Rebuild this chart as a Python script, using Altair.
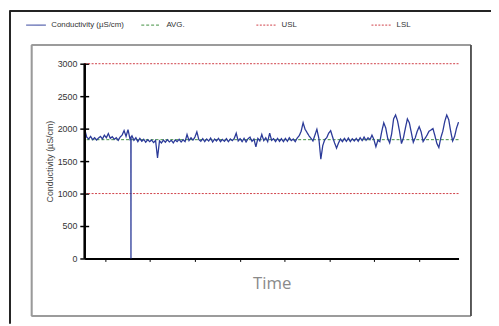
import altair as alt
import pandas as pd

# ---- data ----
series = ["Conductivity (µS/cm)", "AVG.", "USL", "LSL"]
limit_values = [1830, 3000, 1000]          # AVG., USL, LSL

values = [
    1990, 1870, 1840, 1880, 1830, 1860, 1825, 1855, 1880, 1840,
    1900, 1860, 1925, 1850, 1875, 1835, 1860, 1820, 1870, 1900,
    1970, 1880, 1985, 1840, 1890, 1820, 1860, 1800, 1850, 1805,
    1835, 1790, 1830, 1800, 1825, 1785, 1820, 1550, 1810, 1780,
    1825, 1790, 1830, 1795, 1820, 1780, 1825, 1800, 1835, 1795,
    1830, 1800, 1910, 1815, 1860, 1820, 1870, 1950, 1830, 1805,
    1845, 1800, 1840, 1810, 1855, 1795, 1840, 1810, 1850, 1800,
    1835, 1805, 1845, 1800, 1840, 1815, 1850, 1930, 1810, 1845,
    1800, 1850, 1795, 1845, 1870, 1805, 1840, 1720, 1850, 1810,
    1910, 1815, 1860, 1800, 1930, 1820, 1845, 1800, 1850, 1805,
    1845, 1800, 1850, 1805, 1860, 1815, 1840, 1800, 1855, 1890,
    1960, 2090, 1990, 1940, 1890, 1850, 1810, 1900, 1990, 1850,
    1530, 1740, 1830, 1860, 1930, 1970, 1870, 1780, 1700, 1780,
    1840, 1800, 1850, 1805, 1855, 1800, 1845, 1810, 1850, 1805,
    1860, 1815, 1870, 1820, 1860, 1830, 1900, 1830, 1720, 1820,
    1800, 1960, 2090, 2010, 1850, 1780, 1920, 2150, 2210, 2120,
    1960, 1770, 1860, 2010, 2150, 2090, 1940, 1790, 1860, 1960,
    2030, 1950, 1800, 1850, 1900, 1960, 1980, 2000, 1890, 1770,
    1710, 1860, 1960, 2110, 2210, 2140, 1960, 1810, 1880, 2010, 2100,
]
times = list(range(0, 381, 2))
# single sample that drops to zero, with its immediate neighbours
drop_times = [46.9, 47, 47.1]
drop_values = [1870, 0, 1870]
x_ticks = [20.7, 66.3, 111.9, 157.5, 203.1, 248.7, 294.3, 339.9]
y_ticks = [0, 500, 1000, 1500, 2000, 2500, 3000]

# ---- tables ----
pts = list(zip(times, values)) + list(zip(drop_times, drop_values))
pts.sort(key=lambda p: p[0])
df = pd.DataFrame({"t": [p[0] for p in pts], "v": [p[1] for p in pts], "series": series[0]})
df_lim = pd.DataFrame({"series": series[1:], "v": limit_values})

W, H = 380, 198
colors = ["#2b3a98", "#3e8e3e", "#cf3d45", "#cf3d45"]
dashes = [[1, 0], [3, 2], [2, 1.5], [2, 1.5]]

legend = alt.Legend(
    title=None, orient="none", legendX=-60, legendY=-50, direction="horizontal",
    columns=4, gridAlign="all", columnPadding=15, symbolType="stroke",
    symbolSize=400, symbolStrokeWidth=1, labelFontSize=8, labelFont="Liberation Sans",
    labelColor="#333333", labelOffset=5, padding=0,
)
color_enc = alt.Color("series:N", scale=alt.Scale(domain=series, range=colors), legend=legend)
dash_enc = alt.StrokeDash("series:N", scale=alt.Scale(domain=series, range=dashes), legend=legend)

x_enc = alt.X(
    "t:Q", scale=alt.Scale(domain=[0, 380], nice=False, zero=False),
    axis=alt.Axis(values=x_ticks, labels=False, tickSize=3, tickColor="black", tickWidth=1,
                  domainColor="black", domainWidth=2, grid=False, title="Time",
                  titleFont="Open Sans", titleFontSize=17, titleFontWeight="normal",
                  titleColor="#8a8a8a", titlePadding=14),
)
y_axis = alt.Axis(values=y_ticks, format="d", domain=False, offset=-4, tickSize=9,
                  tickColor="black", tickWidth=1.5, grid=False, labelFont="Liberation Sans",
                  labelFontSize=9, labelColor="#333333", labelPadding=3, labelOverlap=False,
                  title="Conductivity (µS/cm)", titleFont="Liberation Sans", titleFontSize=9,
                  titleFontWeight="normal", titleColor="#444444", titlePadding=3)
y_scale = alt.Scale(domain=[0, 3000], nice=False)

limits = alt.Chart(df_lim).mark_rule(strokeWidth=1).encode(
    y=alt.Y("v:Q", scale=y_scale, axis=y_axis), color=color_enc, strokeDash=dash_enc
)
line = alt.Chart(df).mark_line(strokeWidth=1.3).encode(
    x=x_enc, y=alt.Y("v:Q", scale=y_scale, axis=y_axis), color=color_enc, strokeDash=dash_enc
)

def frame(x, x2, y, y2, color, width):
    return alt.Chart(df_lim).mark_rule(color=color, strokeWidth=width).encode(
        x=alt.value(x), x2=alt.value(x2), y=alt.value(y), y2=alt.value(y2)
    )

decor = [
    frame(0, 0, 0, H, "black", 2),                     # y axis line
    frame(-76, 413, -53.5, -53.5, "#222222", 1.5),     # outer frame top
    frame(-76, -76, -54, 264, "#222222", 1.5),         # outer frame left
    frame(-54, 392.5, -19, -19, "#9a9a9a", 1.5),       # inner box top
    frame(-54, -54, -19, 256.5, "#9a9a9a", 1.5),       # inner box left
    frame(-54, 392.5, 256.5, 256.5, "#9a9a9a", 1.5),   # inner box bottom
    frame(392.5, 392.5, -19, 256.5, "#555555", 1.5),   # inner box right
]

chart = alt.layer(limits, line, *decor).properties(
    width=W, height=H,
    padding={"left": 78, "top": 54, "right": 33, "bottom": 66},
    autosize=alt.AutoSizeParams(type="none"),
    background="white",
).configure_view(stroke=None)

chart.save("out.html", embed_options={"renderer": "svg", "actions": False})
